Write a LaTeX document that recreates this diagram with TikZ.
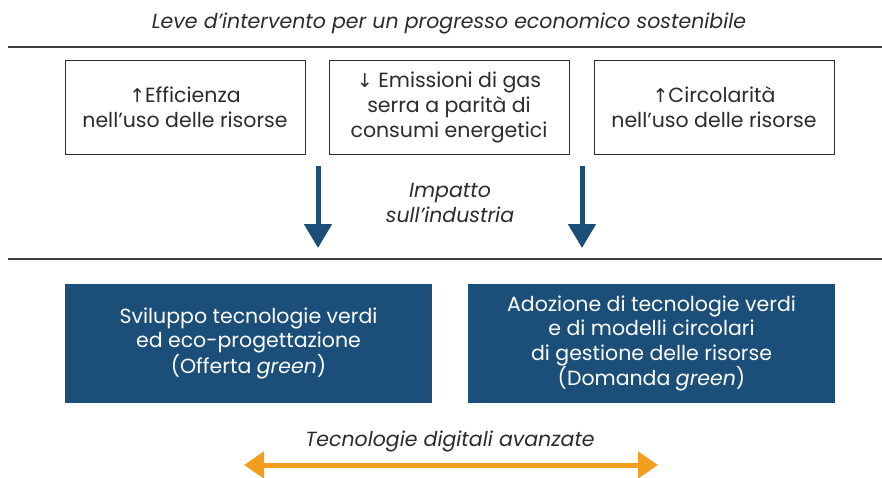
\documentclass[tikz,border=0pt]{standalone}
\usepackage{fontspec}
\setmainfont{Poppins}
\newfontfamily\symfont{DejaVu Sans}
\usetikzlibrary{arrows.meta}
\definecolor{dblue}{HTML}{1B4F79}
\definecolor{orng}{HTML}{F49E1F}
\definecolor{txt}{HTML}{2B2B2B}
\newcommand{\upar}{{\symfont\fontsize{19}{19}\selectfont ↑}}
\newcommand{\dnar}{{\symfont\fontsize{19}{19}\selectfont ↓}}
\tikzset{
  lever/.style={draw=txt, line width=1pt, minimum width=240pt, minimum height=94pt, align=center, text=txt, font=\fontsize{20.5}{25}\selectfont, inner sep=0pt},
  actbox/.style={fill=dblue, minimum width=367pt, minimum height=119pt, align=center, text=white, font=\fontsize{20.5}{24.5}\selectfont, inner sep=0pt},
  caption/.style={align=center, text=txt, font=\fontsize{20.5}{25}\selectfont\itshape},
  sep/.style={draw=txt!90, line width=2pt},
  down/.style={draw=dblue, line width=5pt, -{Triangle[length=24pt,width=27pt]}},
}
\begin{document}
\begin{tikzpicture}[x=1pt,y=-1pt]
\useasboundingbox (0,0) rectangle (882,477);
\node[caption] (title) at (449,23) {Leve d’intervento per un progresso economico sostenibile};
\coordinate (l1a) at (8,47); \coordinate (l1b) at (882,47);
\draw[sep] (l1a) -- (l1b);
\node[lever] (b1) at (185,107) {\upar Efficienza\\nell’uso delle risorse};
\node[lever] (b2) at (449,107) {\dnar\ Emissioni di gas\\serra a parità di\\consumi energetici};
\node[lever] (b3) at (714,107) {\upar Circolarità\\nell’uso delle risorse};
\coordinate (a1s) at (318,166); \coordinate (a1e) at (318,248);
\coordinate (a2s) at (582,166); \coordinate (a2e) at (582,248);
\draw[down] (a1s) -- (a1e);
\draw[down] (a2s) -- (a2e);
\node[caption] (imp) at (450,203) {Impatto\\sull’industria};
\coordinate (l2a) at (8,259); \coordinate (l2b) at (882,259);
\draw[sep] (l2a) -- (l2b);
\node[actbox] (g1) at (248.5,343.5) {Sviluppo tecnologie verdi\\ed eco-progettazione\\(Offerta \textit{green})};
\node[actbox] (g2) at (651.5,343.5) {Adozione di tecnologie verdi\\e di modelli circolari\\di gestione delle risorse\\(Domanda \textit{green})};
\node[caption] (dig) at (450,441) {Tecnologie digitali avanzate};
\coordinate (oa) at (244,465); \coordinate (ob) at (658,465);
\draw[draw=orng, line width=5pt, {Triangle[length=20pt,width=26pt]}-{Triangle[length=20pt,width=26pt]}] (oa) -- (ob);
\end{tikzpicture}
\end{document}
